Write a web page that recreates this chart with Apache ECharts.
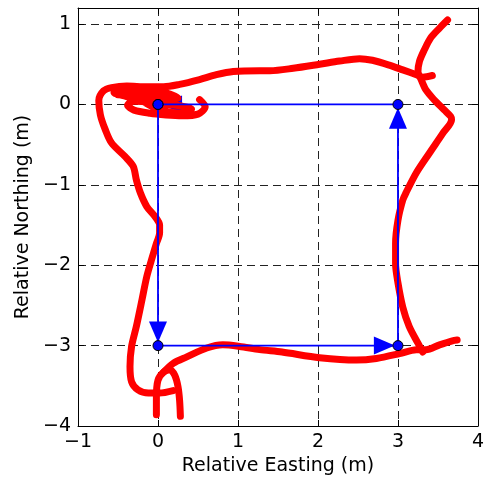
<!DOCTYPE html>
<html>
<head>
<meta charset="utf-8">
<script src="https://cdn.jsdelivr.net/npm/echarts@6/dist/echarts.min.js"></script>
<style>
  html, body { margin: 0; padding: 0; background: #fff; }
  #chart { width: 487px; height: 481px; }
</style>
</head>
<body>
<div id="chart"></div>
<script>
// planned square route (m)
const planEast = [0, 0, 3, 3, 0];
const planNorth = [0, -3, -3, 0, 0];
// arrow heads along the route: [east, north, rotation]
const arrowHeads = [[0, -2.83, 180], [2.83, -3, -90], [3, -0.17, 0], [0.17, 0, 90]];

const trackWestSide = [
  [3.43, 0.36], [3.31, 0.34], [3.23, 0.37], [3.06, 0.43], [2.89, 0.49], [2.68, 0.55], [2.52, 0.57],
  [2.27, 0.54], [2.02, 0.50], [1.69, 0.45], [1.40, 0.42], [1.27, 0.42], [0.94, 0.41], [0.73, 0.37],
  [0.52, 0.31], [0.27, 0.25], [0.07, 0.22], [-0.14, 0.22], [-0.39, 0.23], [-0.58, 0.21], [-0.68, 0.17],
  [-0.74, 0.05], [-0.72, -0.13], [-0.66, -0.31], [-0.58, -0.48], [-0.41, -0.65], [-0.31, -0.77],
  [-0.27, -0.94], [-0.22, -1.10], [-0.14, -1.27], [-0.04, -1.39], [0.02, -1.50], [0.02, -1.60],
  [-0.02, -1.73], [-0.08, -1.93], [-0.14, -2.14], [-0.20, -2.43], [-0.27, -2.76], [-0.33, -3.01],
  [-0.35, -3.26], [-0.33, -3.45], [-0.25, -3.55], [-0.12, -3.59], [0.02, -3.59], [0.19, -3.56]
];
const trackStartLoops = [
  [0.52, 0.06], [0.59, -0.03], [0.50, -0.12], [0.30, -0.14], [0.10, -0.13], [-0.10, -0.11],
  [-0.30, -0.07], [-0.38, -0.01], [-0.30, 0.04], [-0.10, 0.03], [0.10, 0.00], [0.30, -0.02],
  [0.42, -0.06], [0.36, -0.11], [0.18, -0.10], [0.00, -0.06], [-0.20, 0.04], [-0.40, 0.10],
  [-0.55, 0.15], [-0.45, 0.20], [-0.25, 0.19], [-0.05, 0.17], [0.15, 0.13], [0.25, 0.08],
  [0.10, 0.07], [-0.10, 0.10], [-0.35, 0.11], [-0.50, 0.12]
];
const trackBottomA = [
  [-0.02, -3.86], [-0.02, -3.64], [0.00, -3.43], [0.07, -3.33], [0.15, -3.30], [0.21, -3.37],
  [0.25, -3.51], [0.27, -3.68], [0.28, -3.88]
];
const trackSouthSide = [
  [0.07, -3.33], [0.19, -3.22], [0.36, -3.14], [0.61, -3.03], [0.81, -2.99], [1.02, -3.01],
  [1.27, -3.05], [1.55, -3.08], [2.02, -3.15], [2.48, -3.18], [2.73, -3.16],
  [3.02, -3.10], [3.23, -3.05], [3.35, -3.05], [3.52, -2.99], [3.68, -2.94], [3.74, -2.93]
];
const trackEastSide = [
  [3.31, -3.08], [3.25, -2.97], [3.14, -2.76], [3.06, -2.52], [3.00, -2.22], [2.97, -1.98],
  [2.97, -1.73], [3.00, -1.44], [3.06, -1.19], [3.10, -1.10], [3.23, -0.85], [3.39, -0.61],
  [3.56, -0.36], [3.67, -0.19], [3.66, -0.15], [3.58, -0.07], [3.45, 0.06], [3.35, 0.18],
  [3.29, 0.31], [3.25, 0.41], [3.27, 0.54], [3.33, 0.68], [3.41, 0.83], [3.52, 0.95], [3.62, 1.05]
];

const xTicks = { min: -1, max: 4, interval: 1 };
const yTicks = { min: -4, max: 1.2, interval: 1 };

let chart = echarts.init(document.getElementById('chart'), null, { renderer: 'canvas' });
const font = 'DejaVu Sans';
const minus = v => String(v).replace('-', '\u2212');

function frameAxis(pos, range) {
  return {
    type: 'value',
    position: pos,
    min: range.min,
    max: range.max,
    interval: range.interval,
    axisLine: { show: true, onZero: false, lineStyle: { color: '#000', width: 1 } },
    axisTick: { show: true, inside: true, length: 6, lineStyle: { color: '#000', width: 1 } },
    axisLabel: { show: false },
    splitLine: { show: false }
  };
}

const redTrack = (name, pts) => ({
  name: name,
  type: 'line',
  data: pts,
  symbol: 'none',
  smooth: 0.3,
  z: 3,
  lineStyle: { color: '#ff0000', width: 7, cap: 'round', join: 'round' }
});

let option = {
  animation: false,
  backgroundColor: '#fff',
  grid: { left: 78, right: 8, top: 8, bottom: 55 },
  xAxis: [
    {
      type: 'value',
      position: 'bottom',
      min: xTicks.min, max: xTicks.max, interval: xTicks.interval,
      name: 'Relative Easting (m)',
      nameLocation: 'middle',
      nameGap: 31,
      nameTextStyle: { fontFamily: font, fontSize: 19, color: '#000' },
      axisLine: { show: true, onZero: false, lineStyle: { color: '#000', width: 1 } },
      axisTick: { show: true, inside: true, length: 6, lineStyle: { color: '#000', width: 1 } },
      axisLabel: { margin: 7, fontFamily: font, fontSize: 19, color: '#000', formatter: minus },
      splitLine: { show: true, lineStyle: { color: '#222', width: 1, type: [8, 5] } }
    },
    frameAxis('top', xTicks)
  ],
  yAxis: [
    {
      type: 'value',
      position: 'left',
      min: yTicks.min, max: yTicks.max, interval: yTicks.interval,
      name: 'Relative Northing (m)',
      nameLocation: 'middle',
      nameGap: 42,
      nameTextStyle: { fontFamily: font, fontSize: 19, color: '#000' },
      axisLine: { show: true, onZero: false, lineStyle: { color: '#000', width: 1 } },
      axisTick: { show: true, inside: true, length: 6, lineStyle: { color: '#000', width: 1 } },
      axisLabel: { margin: 7, fontFamily: font, fontSize: 19, color: '#000', formatter: minus, showMaxLabel: false },
      splitLine: { show: true, lineStyle: { color: '#222', width: 1, type: [8, 5] } }
    },
    frameAxis('right', yTicks)
  ],
  series: [
    {
      name: 'arrows',
      type: 'scatter',
      z: 2,
      data: arrowHeads.map(a => ({ value: [a[0], a[1]], symbolRotate: a[2] })),
      symbol: 'triangle',
      symbolSize: [18, 21],
      itemStyle: { color: '#0000ff', opacity: 1 }
    },
    redTrack('west', trackWestSide),
    redTrack('loops', trackStartLoops),
    redTrack('bottomA', trackBottomA),
    redTrack('south', trackSouthSide),
    redTrack('east', trackEastSide),
    {
      name: 'plan',
      type: 'line',
      z: 4,
      data: planEast.map((e, i) => [e, planNorth[i]]),
      symbol: 'circle',
      symbolSize: 10,
      showAllSymbol: true,
      lineStyle: { color: '#0000ff', width: 1.8 },
      itemStyle: { color: '#0000ff', borderColor: '#000', borderWidth: 1 }
    }
  ]
};
chart.setOption(option);
</script>
</body>
</html>
